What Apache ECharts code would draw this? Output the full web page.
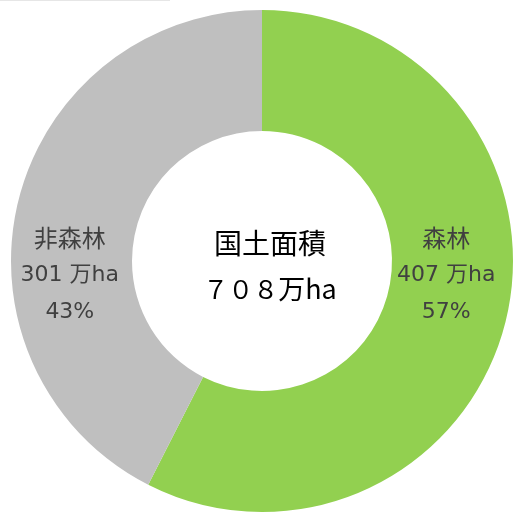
<!DOCTYPE html>
<html>
<head>
<meta charset="utf-8">
<script src="https://cdn.jsdelivr.net/npm/echarts@6/dist/echarts.min.js"></script>
<style>
  html, body { margin: 0; padding: 0; background: #fff; }
  #chart { width: 513px; height: 513px; }
</style>
</head>
<body>
<div id="chart"></div>
<script>
// 国土面積の内訳 (万ha)
const categories = ['森林', '非森林'];
const areas = [407, 301];
const colors = ['#92D050', '#BFBFBF'];
const centerTitle = '国土面積';
const unit = '万ha';

const total = areas.reduce((a, b) => a + b, 0);
// 全角数字に
const toWide = s => String(s).replace(/[0-9]/g, c => String.fromCharCode(c.charCodeAt(0) + 0xFEE0));

const jpFont = '"Noto Sans CJK JP", sans-serif';
const numFont = '"DejaVu Sans", "Noto Sans CJK JP", sans-serif';

const chart = echarts.init(document.getElementById('chart'));

chart.setOption({
  animation: false,
  color: colors,
  graphic: [
    {
      type: 'rect',
      shape: { x: 0, y: 0, width: 170, height: 1 },
      style: { fill: '#E6E6E6' }
    },
    {
      type: 'text',
      x: 270,
      y: 266,
      style: {
        text: '{t|' + centerTitle + '}\n{n|' + toWide(total) + '}{u|' + unit + '}',
        align: 'center',
        verticalAlign: 'middle',
        rich: {
          t: { fontFamily: jpFont, fontSize: 28, lineHeight: 46, fill: '#000' },
          n: { fontFamily: jpFont, fontSize: 25, lineHeight: 46, fill: '#000' },
          u: { fontFamily: jpFont, fontSize: 27, lineHeight: 46, fill: '#000' }
        }
      }
    }
  ],
  series: [
    {
      type: 'pie',
      center: [262, 261],
      radius: [130, 251],
      startAngle: 90,
      clockwise: true,
      silent: true,
      data: categories.map((name, i) => ({ name: name, value: areas[i] })),
      label: {
        show: true,
        position: 'inside',
        color: '#404040',
        formatter: p => '{a|' + p.name + '}\n{b|' + p.value + ' ' + unit + '}\n{b|' + Math.round(p.value / total * 100) + '%}',
        rich: {
          a: { fontFamily: jpFont, fontSize: 24, lineHeight: 37, color: '#404040' },
          b: { fontFamily: numFont, fontSize: 22, lineHeight: 37, color: '#404040' }
        }
      },
      labelLayout: { y: 275, dx: -4 },
      labelLine: { show: false }
    }
  ]
});
</script>
</body>
</html>
